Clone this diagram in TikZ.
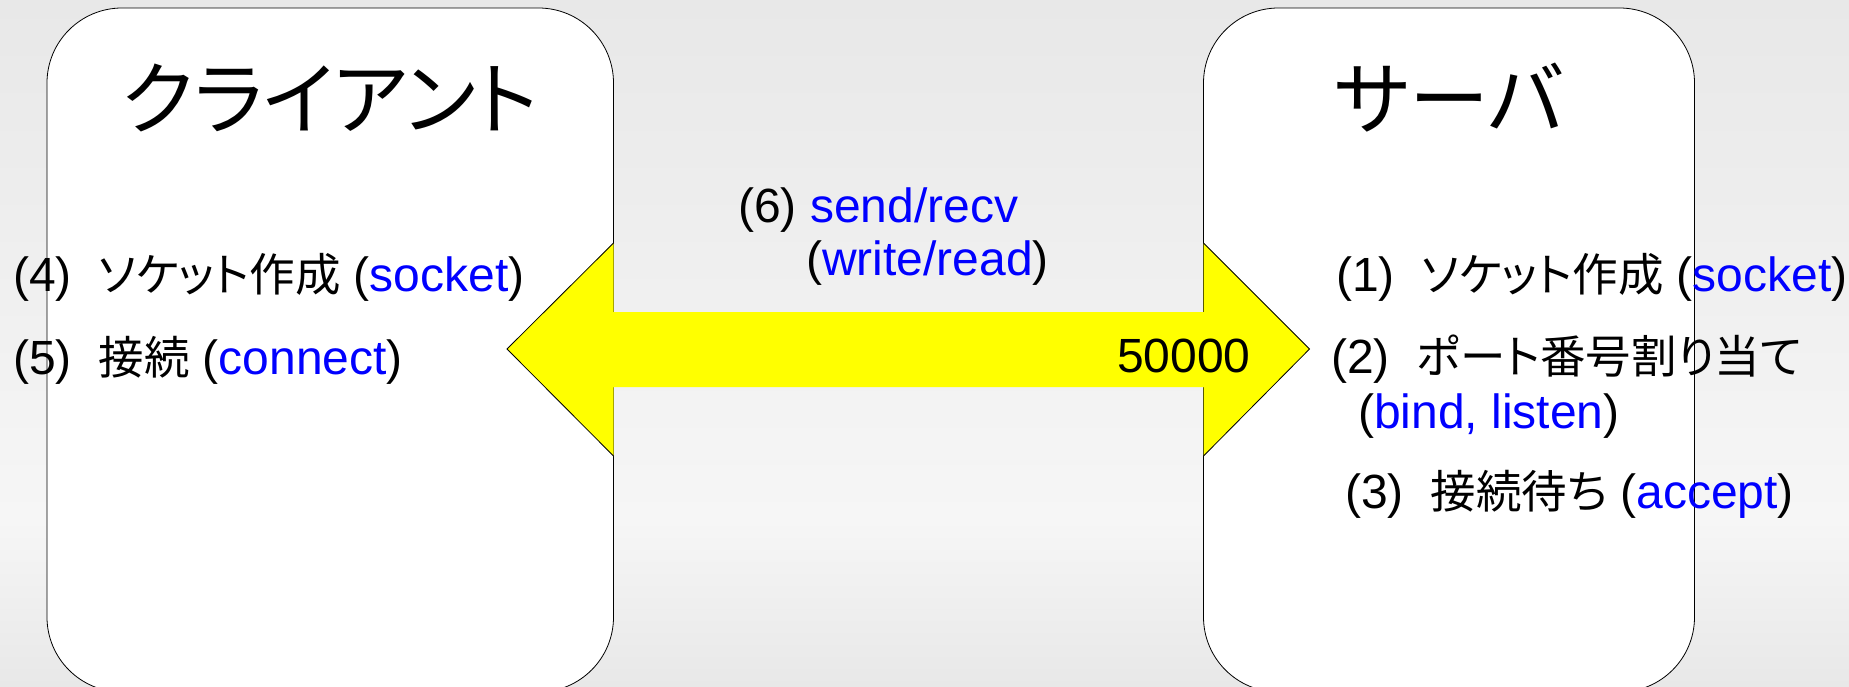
\documentclass[tikz,border=0pt]{standalone}
\usepackage{fontspec}
\setmainfont{Liberation Sans}
\newfontfamily\jp[RawFeature=+palt]{Noto Sans CJK JP}
\definecolor{bgedge}{RGB}{232,232,232}
\definecolor{bgmid}{RGB}{246,246,246}
\definecolor{arrowfill}{RGB}{255,255,0}
\newcommand\api[1]{\textcolor{blue}{#1}}
\newcommand\ja[1]{{\jp\fontsize{45.5}{56}\selectfont #1}}
\tikzset{
  lbl/.style={inner sep=0pt, anchor=base west, font=\fontsize{48}{56}\selectfont},
  ttl/.style={inner sep=0pt, anchor=base, font=\fontsize{80}{90}\selectfont\jp},
  pane/.style={draw=black, line width=0.8pt, fill=white, rounded corners=75pt},
  headline/.style={draw=black, line width=0.8pt, line join=miter},
}
\begin{document}
\begin{tikzpicture}[x=1pt, y=-1pt]
  \useasboundingbox (0,0) rectangle (1849,686);
  \clip (0,0) rectangle (1849,686);
  % background: light band in the middle, darker towards top and bottom
  \shade[top color=bgedge, bottom color=bgmid] (0,0) rectangle (1849,520);
  \shade[top color=bgmid, bottom color=bgedge] (0,520) rectangle (1849,686);

  % client and server panes (running past the lower edge)
  \draw[pane] (47,8) rectangle (613.5,692);
  \draw[pane] (1203.5,8) rectangle (1694.5,692);
  \coordinate (clientR) at (613.5,349);
  \coordinate (serverL) at (1203.5,349);
  \coordinate (tipL) at (507,349);
  \coordinate (tipR) at (1309.5,349);

  % double arrow between the panes
  \fill[arrowfill] (tipL) -- ([yshift=-107]clientR) -- ([yshift=-38]clientR)
     -- ([yshift=-38]serverL) -- ([yshift=-107]serverL) -- (tipR)
     -- ([yshift=106]serverL) -- ([yshift=37]serverL) -- ([yshift=37]clientR)
     -- ([yshift=106]clientR) -- cycle;
  \draw[headline] ([yshift=-107]clientR) -- (tipL) -- ([yshift=106]clientR);
  \draw[headline] ([yshift=-107]serverL) -- (tipR) -- ([yshift=106]serverL);

  % titles
  \node[ttl] (client) at (330,128) {クライアント};
  \node[ttl] (server) at (1449,128) {サーバ};

  % client steps
  \node[lbl] (c4) at (13,291) {(4)\ \ \ja{ソケット作成} (\api{socket})};
  \node[lbl] (c5) at (13,374) {(5)\ \ \ja{接続} (\api{connect})};

  % server steps
  \node[lbl] (s1) at (1336,291) {(1)\ \ \ja{ソケット作成} (\api{socket})};
  \node[lbl] (s2) at (1331,373) {(2)\ \ \ja{ポート番号割り当て}};
  \node[lbl] (s2b) at (1358,428) {(\api{bind, listen})};
  \node[lbl] (s3) at (1345,508) {(3)\ \ \ja{接続待ち} (\api{accept})};

  % data exchange
  \node[lbl] (x6) at (738,222) {(6) \api{send/recv}};
  \node[lbl] (x6b) at (806,275) {(\api{write/read})};
  \node[lbl] (port) at (1117,372) {50000};
\end{tikzpicture}
\end{document}
